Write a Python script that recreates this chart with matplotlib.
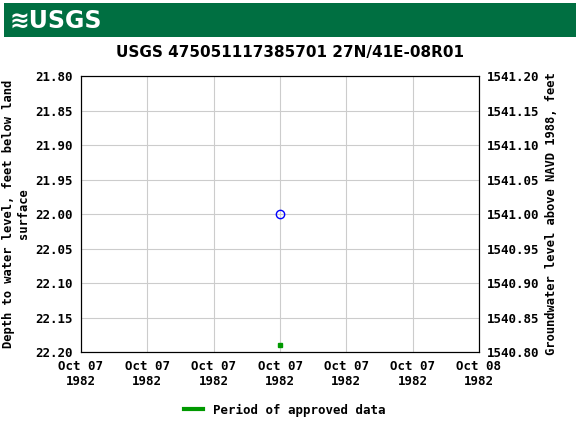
import matplotlib
matplotlib.use("Agg")
import matplotlib.pyplot as plt
from datetime import datetime, timedelta

title = "USGS 475051117385701 27N/41E-08R01"
point_time = [datetime(1982, 10, 7, 12, 0)]
point_depth = [22.00]
approved_time = [datetime(1982, 10, 7, 12, 0)]
approved_depth = [22.19]
tick_labels = ["Oct 07\n1982"] * 6 + ["Oct 08\n1982"]
datum_offset = 1563.00

W, H = 580, 430
fig = plt.figure(figsize=(W/100, H/100), dpi=100)
mono = "DejaVu Sans Mono"

hdr = fig.add_axes([4/W, 1-37/H, 572/W, 34/H])
hdr.set_facecolor("#006f41"); hdr.set_xticks([]); hdr.set_yticks([])
for s in hdr.spines.values(): s.set_visible(False)
fig.text(10/W, 1-21/H, "≋USGS", color="white", fontsize=17, fontweight="bold", va="center", family="DejaVu Sans")

ax = fig.add_axes([81/W, 1-352/H, 398/W, 276/H])
start = datetime(1982, 10, 7)
ax.set_xlim(start, start + timedelta(days=1))
ax.set_ylim(22.20, 21.80)
ax.plot(point_time, point_depth, "o", mfc="none", mec="blue", ms=6, mew=1)
ax.plot(approved_time, approved_depth, "s", color="#009900", ms=3)
ticks = [start + timedelta(hours=4*i) for i in range(7)]
ax.set_xticks(ticks)
ax.set_xticklabels(tick_labels, family=mono, fontsize=9, fontweight="bold")
yt = [21.80 + 0.05*i for i in range(9)]
ax.set_yticks(yt)
ax.set_yticklabels([f"{v:.2f}" for v in yt], family=mono, fontsize=9, fontweight="bold")
ax.grid(True, color="#cccccc", lw=0.8)
ax.set_ylabel("Depth to water level, feet below land\nsurface", family=mono, fontsize=8.7, fontweight="bold", labelpad=4)
ax.tick_params(length=0, pad=6)

ax2 = ax.twinx()
ax2.set_ylim(datum_offset - 22.20, datum_offset - 21.80)
ax2.set_yticks([datum_offset - v for v in yt])
ax2.set_yticklabels([f"{datum_offset - v:.2f}" for v in yt], family=mono, fontsize=9, fontweight="bold")
ax2.tick_params(length=0, pad=6)
ax2.set_ylabel("Groundwater level above NAVD 1988, feet", family=mono, fontsize=8.7, fontweight="bold")

fig.text(290/W, 1-53/H, title, ha="center", va="center", fontsize=11, fontweight="bold")
fig.legend(handles=[plt.Line2D([], [], color="#009900", lw=3)], labels=["Period of approved data"],
           loc="center", bbox_to_anchor=(285/W, 1-410/H), frameon=False,
           prop={"family": mono, "size": 9, "weight": "bold"}, handlelength=1.5)
fig.savefig("out.png", dpi=100)
